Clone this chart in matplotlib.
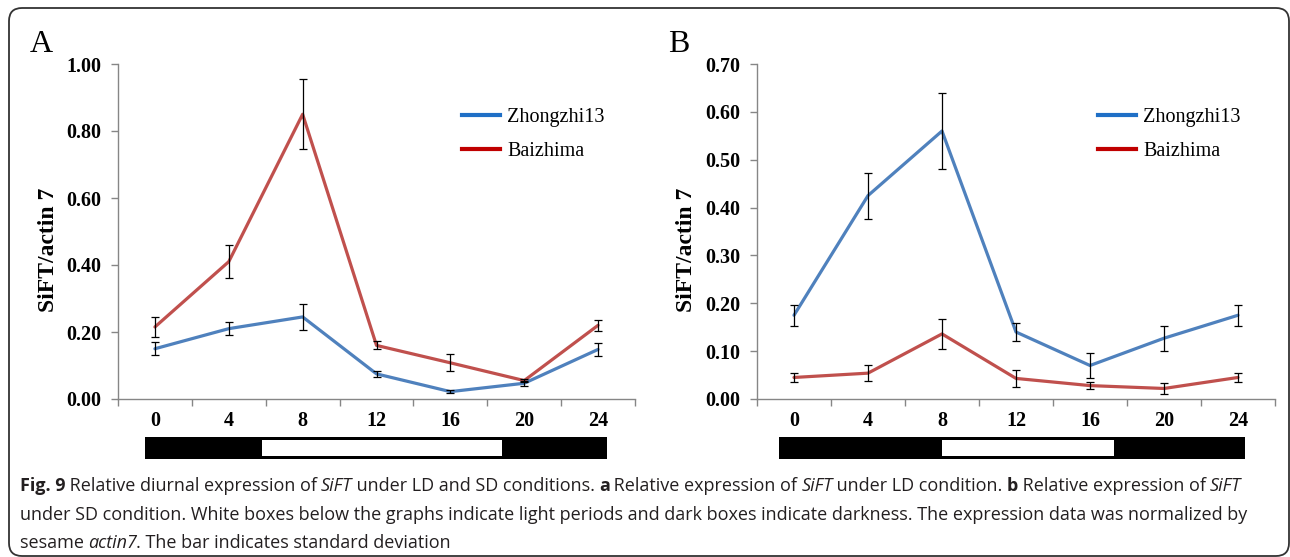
import numpy as np
import matplotlib
matplotlib.use("Agg")
import matplotlib.pyplot as plt
from matplotlib.patches import Rectangle, FancyBboxPatch
from matplotlib.lines import Line2D
import matplotlib.transforms as mtransforms

# ---- data ----
hours = ["0", "4", "8", "12", "16", "20", "24"]

# A: LD condition
ld_zhong = [0.150, 0.210, 0.245, 0.075, 0.022, 0.047, 0.148]
ld_zhong_err = [0.020, 0.020, 0.040, 0.010, 0.005, 0.008, 0.020]
ld_bai = [0.215, 0.410, 0.850, 0.160, 0.108, 0.055, 0.220]
ld_bai_err = [0.030, 0.050, 0.105, 0.012, 0.025, 0.005, 0.016]

# B: SD condition
sd_zhong = [0.175, 0.425, 0.560, 0.140, 0.070, 0.127, 0.175]
sd_zhong_err = [0.022, 0.048, 0.079, 0.018, 0.026, 0.026, 0.022]
sd_bai = [0.045, 0.054, 0.136, 0.043, 0.028, 0.022, 0.045]
sd_bai_err = [0.009, 0.017, 0.031, 0.018, 0.007, 0.011, 0.009]

# light / dark boxes (hours)
ld_dark = (-0.55, 24.5)
ld_light = (5.8, 18.8)
sd_dark = (-0.8, 24.4)
sd_light = (8.0, 17.3)

blue = "#4F81BD"
red = "#C0504D"
leg_blue = "#1F6FC6"
leg_red = "#C00000"
axcol = "#868686"
serif = ["Liberation Serif", "DejaVu Serif"]

fig = plt.figure(figsize=(12.9, 5.57), dpi=100)
fig.patch.set_facecolor("white")


def panel(rect, zhong, zerr, bai, berr, ymax, ystep, dark, light, letter, order, legx):
    ax = fig.add_axes(rect)
    x = np.arange(len(hours))
    series = {"z": (zhong, zerr, blue), "b": (bai, berr, red)}
    for k in order:
        v, e, c = series[k]
        ax.plot(x, v, color=c, lw=2.3, solid_capstyle="round", zorder=2)
    for k in order:
        v, e, c = series[k]
        ax.errorbar(x, v, yerr=e, fmt="none", ecolor="black", elinewidth=0.9,
                    capsize=3.2, capthick=0.9, zorder=3)
    ax.set_xlim(-0.5, len(hours) - 0.5)
    ax.set_ylim(0, ymax)
    yt = np.arange(0, ymax + ystep / 2, ystep)
    ax.set_yticks(yt)
    ax.set_yticklabels(["%.2f" % t for t in yt], family=serif, fontweight="bold", fontsize=14.5)
    ax.set_xticks(np.arange(-0.5, len(hours), 1))
    ax.set_xticklabels([])
    ax.set_xticks(x, minor=True)
    ax.set_xticklabels(hours, minor=True, family=serif, fontweight="bold", fontsize=14.5)
    ax.tick_params(which="major", direction="out", length=5, color=axcol, width=1)
    ax.tick_params(axis="y", pad=7)
    ax.tick_params(which="minor", length=0, pad=9)
    for s in ["top", "right"]:
        ax.spines[s].set_visible(False)
    for s in ["left", "bottom"]:
        ax.spines[s].set_color(axcol)
        ax.spines[s].set_linewidth(1)
    ax.set_ylabel("SiFT/actin 7", family=serif, fontweight="bold", fontsize=17)
    ax.yaxis.set_label_coords(-0.115, 0.445)

    # light/dark bar under the axis
    tr = mtransforms.blended_transform_factory(ax.transData, ax.transAxes)
    ax.add_patch(Rectangle((dark[0] / 4, -0.178), (dark[1] - dark[0]) / 4, 0.064,
                           transform=tr, facecolor="black", edgecolor="none", clip_on=False))
    ax.add_patch(Rectangle((light[0] / 4, -0.169), (light[1] - light[0]) / 4, 0.047,
                           transform=tr, facecolor="white", edgecolor="none", clip_on=False))

    handles = [Line2D([], [], color=leg_blue, lw=3), Line2D([], [], color=leg_red, lw=3)]
    ax.legend(handles, ["Zhongzhi13", "Baizhima"], loc="upper left",
              bbox_to_anchor=(legx, 0.87), frameon=False, handlelength=1.9,
              handletextpad=0.35, labelspacing=0.75, borderpad=0, borderaxespad=0,
              prop={"family": serif, "size": 14.5})
    ax.text(-0.171, 1.036, letter, transform=ax.transAxes, family=serif, fontsize=23,
            va="baseline", ha="left")
    return ax


panel([118 / 1290, 1 - 399 / 557, 517 / 1290, 335 / 557], ld_zhong, ld_zhong_err,
      ld_bai, ld_bai_err, 1.0, 0.2, ld_dark, ld_light, "A", ["z", "b"], 0.665)
panel([757 / 1290, 1 - 399 / 557, 518 / 1290, 335 / 557], sd_zhong, sd_zhong_err,
      sd_bai, sd_bai_err, 0.70, 0.10, sd_dark, sd_light, "B", ["b", "z"], 0.658)

# outer rounded frame
fig.patches.append(FancyBboxPatch((0.09, 0.01), 12.80, 5.48,
                                  boxstyle="round,pad=0,rounding_size=0.13",
                                  transform=fig.dpi_scale_trans, facecolor="none",
                                  edgecolor="#333333", lw=1.3))

# caption with mixed styles
cap_font = ["Liberation Sans Narrow", "Open Sans", "DejaVu Sans"]
cap_col = "#231F20"
cap_size = 13.0
lines = [
    [("Fig. 9", "b"), (" Relative diurnal expression of ", "n"), ("SiFT", "i"),
     (" under LD and SD conditions. ", "n"), ("a", "b"), (" Relative expression of ", "n"),
     ("SiFT", "i"), (" under LD condition. ", "n"), ("b", "b"),
     (" Relative expression of ", "n"), ("SiFT", "i")],
    [("under SD condition. White boxes below the graphs indicate light periods and dark "
      "boxes indicate darkness. The expression data was normalized by", "n")],
    [("sesame ", "n"), ("actin7", "i"), (". The bar indicates standard deviation", "n")],
]
ys = [486, 515, 543]
renderer = fig.canvas.get_renderer()
for runs, ypix in zip(lines, ys):
    xpix = 20
    for txt, st in runs:
        kw = {}
        if st == "b":
            kw["fontweight"] = "bold"
        if st == "i":
            kw["fontstyle"] = "italic"
        t = fig.text(xpix / 1290, 1 - ypix / 557, txt, family=cap_font, fontsize=cap_size,
                     color=cap_col, va="center", ha="left", **kw)
        bb = t.get_window_extent(renderer)
        xpix += bb.width - 0.5

fig.savefig("out.png", dpi=100, facecolor="white")
